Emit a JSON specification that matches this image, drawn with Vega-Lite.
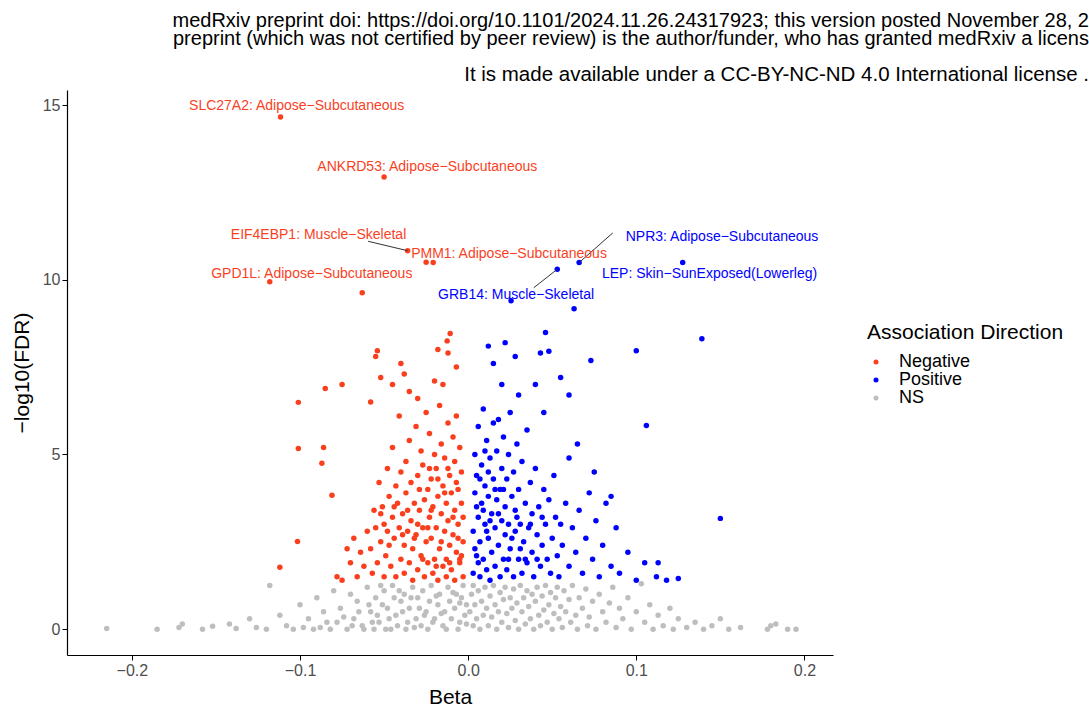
{
  "$schema": "https://vega.github.io/schema/vega-lite/v6.json",
  "width": 766,
  "height": 565,
  "autosize": "none",
  "padding": {"left": 67, "top": 90, "right": 256, "bottom": 63},
  "background": "white",
  "title": {
    "text": ["medRxiv preprint doi: https://doi.org/10.1101/2024.11.26.24317923; this version posted November 28, 2", "preprint  (which was not certified by peer review) is the author/funder, who has granted medRxiv a licens"],
    "subtitle": "It is made available under a CC-BY-NC-ND 4.0 International license .",
    "anchor": "end",
    "frame": "group",
    "dx": 256,
    "offset": 5,
    "font": "Liberation Sans",
    "fontSize": 20,
    "fontWeight": "normal",
    "lineHeight": 18,
    "color": "black",
    "subtitleFont": "Liberation Sans",
    "subtitleFontSize": 20.5,
    "subtitleColor": "black",
    "subtitlePadding": 16
  },
  "layer": [
    {
      "data": {
        "format": {"type": "csv"},
        "values": "b,f,d\n-0.215,0.02,NS\n-0.185,0.0,NS\n-0.172,0.05,NS\n-0.17,0.15,NS\n-0.158,0.0,NS\n-0.152,0.08,NS\n-0.142,0.15,NS\n-0.138,0.02,NS\n-0.13,0.3,NS\n-0.126,0.05,NS\n-0.12,0.0,NS\n-0.118,1.25,NS\n-0.112,0.4,NS\n-0.108,0.1,NS\n-0.104,0.0,NS\n-0.1,0.7,NS\n-0.098,0.05,NS\n-0.095,0.3,NS\n-0.092,0.0,NS\n-0.09,0.9,NS\n-0.088,0.05,NS\n-0.086,0.5,NS\n-0.084,0.2,NS\n-0.082,0.0,NS\n-0.08,1.1,NS\n-0.078,0.2,NS\n-0.076,0.6,NS\n-0.074,0.35,NS\n-0.072,0.0,NS\n-0.07,1.0,NS\n-0.069,0.1,NS\n-0.068,0.3,NS\n-0.066,0.8,NS\n-0.065,0.5,NS\n-0.063,0.1,NS\n-0.062,0.0,NS\n-0.06,1.2,NS\n-0.059,0.7,NS\n-0.058,0.5,NS\n-0.057,0.2,NS\n-0.056,0.0,NS\n-0.055,0.9,NS\n-0.054,0.4,NS\n-0.053,0.2,NS\n-0.052,1.25,NS\n-0.051,0.7,NS\n-0.05,1.1,NS\n-0.049,0.0,NS\n-0.048,0.6,NS\n-0.047,0.3,NS\n-0.046,0.0,NS\n-0.045,1.25,NS\n-0.044,0.9,NS\n-0.043,0.4,NS\n-0.042,0.1,NS\n-0.041,1.1,NS\n-0.04,0.8,NS\n-0.039,0.5,NS\n-0.038,1.0,NS\n-0.037,0.0,NS\n-0.036,0.2,NS\n-0.035,0.6,NS\n-0.034,0.9,NS\n-0.033,1.2,NS\n-0.032,0.05,NS\n-0.031,0.3,NS\n-0.03,0.9,NS\n-0.029,0.6,NS\n-0.028,0.1,NS\n-0.027,1.1,NS\n-0.026,0.4,NS\n-0.025,0.5,NS\n-0.024,0.0,NS\n-0.023,0.8,NS\n-0.022,1.25,NS\n-0.021,0.2,NS\n-0.02,0.3,NS\n-0.019,0.95,NS\n-0.018,0.7,NS\n-0.017,1.0,NS\n-0.016,0.45,NS\n-0.015,0.1,NS\n-0.014,0.5,NS\n-0.013,0.0,NS\n-0.012,1.2,NS\n-0.011,0.8,NS\n-0.01,0.3,NS\n-0.009,1.05,NS\n-0.008,0.6,NS\n-0.007,1.0,NS\n-0.006,0.0,NS\n-0.005,0.2,NS\n-0.005,0.75,NS\n-0.004,0.9,NS\n-0.003,1.25,NS\n-0.002,0.4,NS\n-0.001,0.7,NS\n-0.001,0.15,NS\n0.001,0.5,NS\n0.002,1.0,NS\n0.003,0.1,NS\n0.003,1.25,NS\n0.004,0.7,NS\n0.005,0.3,NS\n0.006,1.1,NS\n0.007,0.0,NS\n0.008,0.8,NS\n0.009,0.4,NS\n0.01,1.2,NS\n0.011,0.6,NS\n0.012,0.1,NS\n0.013,0.95,NS\n0.014,0.35,NS\n0.015,1.25,NS\n0.016,0.7,NS\n0.017,0.0,NS\n0.018,0.5,NS\n0.019,1.05,NS\n0.02,0.2,NS\n0.021,0.85,NS\n0.022,1.2,NS\n0.023,0.45,NS\n0.024,0.05,NS\n0.025,0.9,NS\n0.026,0.6,NS\n0.027,1.15,NS\n0.028,0.25,NS\n0.029,0.75,NS\n0.03,0.0,NS\n0.031,1.25,NS\n0.032,0.5,NS\n0.033,0.9,NS\n0.034,0.15,NS\n0.035,1.1,NS\n0.036,0.65,NS\n0.037,0.3,NS\n0.038,1.0,NS\n0.039,0.0,NS\n0.04,0.8,NS\n0.041,1.2,NS\n0.042,0.4,NS\n0.043,0.1,NS\n0.044,0.95,NS\n0.045,0.55,NS\n0.046,1.25,NS\n0.047,0.2,NS\n0.048,0.7,NS\n0.049,1.05,NS\n0.05,0.0,NS\n0.051,0.45,NS\n0.052,0.9,NS\n0.053,1.2,NS\n0.054,0.3,NS\n0.055,0.65,NS\n0.056,0.05,NS\n0.057,1.1,NS\n0.058,0.5,NS\n0.06,0.85,NS\n0.061,0.2,NS\n0.062,1.25,NS\n0.064,0.4,NS\n0.065,0.0,NS\n0.066,0.9,NS\n0.068,0.6,NS\n0.07,1.15,NS\n0.071,0.1,NS\n0.072,0.35,NS\n0.074,0.8,NS\n0.076,0.0,NS\n0.078,1.0,NS\n0.08,0.5,NS\n0.082,0.2,NS\n0.084,0.75,NS\n0.086,1.2,NS\n0.088,0.05,NS\n0.09,0.6,NS\n0.092,0.3,NS\n0.095,0.9,NS\n0.097,0.0,NS\n0.1,0.5,NS\n0.103,1.3,NS\n0.105,0.2,NS\n0.108,0.7,NS\n0.11,0.0,NS\n0.113,0.4,NS\n0.116,0.1,NS\n0.12,0.6,NS\n0.122,0.0,NS\n0.125,0.3,NS\n0.13,0.05,NS\n0.135,0.2,NS\n0.14,0.0,NS\n0.145,0.1,NS\n0.15,0.3,NS\n0.155,0.0,NS\n0.162,0.05,NS\n0.178,0.0,NS\n0.18,0.1,NS\n0.183,0.15,NS\n0.19,0.0,NS\n0.195,0.0,NS\n-0.003,1.5,Negative\n-0.003,2.5,Negative\n-0.004,3.6,Negative\n-0.004,4.5,Negative\n-0.005,1.9,Negative\n-0.005,5.2,Negative\n-0.006,3.0,Negative\n-0.006,4.0,Negative\n-0.007,2.2,Negative\n-0.007,6.1,Negative\n-0.008,1.4,Negative\n-0.008,3.4,Negative\n-0.008,4.8,Negative\n-0.009,2.7,Negative\n-0.009,5.5,Negative\n-0.01,1.7,Negative\n-0.01,3.9,Negative\n-0.011,2.4,Negative\n-0.011,4.4,Negative\n-0.012,3.1,Negative\n-0.012,5.9,Negative\n-0.013,1.5,Negative\n-0.013,2.0,Negative\n-0.013,3.6,Negative\n-0.014,4.9,Negative\n-0.014,2.8,Negative\n-0.015,1.8,Negative\n-0.015,4.1,Negative\n-0.016,3.3,Negative\n-0.016,5.3,Negative\n-0.017,2.3,Negative\n-0.017,6.4,Negative\n-0.018,1.4,Negative\n-0.018,3.8,Negative\n-0.019,2.9,Negative\n-0.019,4.6,Negative\n-0.02,2.0,Negative\n-0.02,5.0,Negative\n-0.021,3.5,Negative\n-0.021,1.6,Negative\n-0.022,4.3,Negative\n-0.022,2.6,Negative\n-0.023,5.6,Negative\n-0.023,3.2,Negative\n-0.024,1.9,Negative\n-0.024,4.0,Negative\n-0.025,2.5,Negative\n-0.025,6.2,Negative\n-0.026,3.7,Negative\n-0.026,1.5,Negative\n-0.027,4.7,Negative\n-0.027,2.9,Negative\n-0.028,2.1,Negative\n-0.028,5.1,Negative\n-0.029,3.4,Negative\n-0.03,1.7,Negative\n-0.03,4.4,Negative\n-0.031,2.7,Negative\n-0.031,5.8,Negative\n-0.032,3.6,Negative\n-0.033,1.4,Negative\n-0.033,2.3,Negative\n-0.034,4.2,Negative\n-0.034,3.1,Negative\n-0.035,5.4,Negative\n-0.035,1.9,Negative\n-0.036,2.8,Negative\n-0.037,3.9,Negative\n-0.037,4.8,Negative\n-0.038,1.6,Negative\n-0.038,2.4,Negative\n-0.039,3.3,Negative\n-0.04,4.5,Negative\n-0.04,2.0,Negative\n-0.041,6.1,Negative\n-0.041,2.9,Negative\n-0.042,3.6,Negative\n-0.043,1.5,Negative\n-0.043,4.1,Negative\n-0.044,2.6,Negative\n-0.045,3.2,Negative\n-0.045,5.2,Negative\n-0.046,1.8,Negative\n-0.047,2.4,Negative\n-0.047,3.8,Negative\n-0.048,4.6,Negative\n-0.049,2.1,Negative\n-0.05,3.0,Negative\n-0.05,1.5,Negative\n-0.051,3.5,Negative\n-0.052,2.5,Negative\n-0.053,4.2,Negative\n-0.054,1.9,Negative\n-0.055,2.9,Negative\n-0.056,3.4,Negative\n-0.057,1.6,Negative\n-0.058,2.3,Negative\n-0.06,2.8,Negative\n-0.062,1.8,Negative\n-0.064,2.2,Negative\n-0.066,1.5,Negative\n-0.07,1.9,Negative\n-0.075,1.4,Negative\n-0.068,2.6,Negative\n-0.072,2.3,Negative\n-0.078,1.5,Negative\n-0.058,6.5,Negative\n-0.055,7.8,Negative\n-0.054,7.97,Negative\n-0.052,7.2,Negative\n-0.045,7.0,Negative\n-0.04,7.6,Negative\n-0.038,7.3,Negative\n-0.035,6.8,Negative\n-0.03,6.6,Negative\n-0.02,7.1,Negative\n-0.015,7.0,Negative\n-0.012,7.9,Negative\n-0.0107,8.46,Negative\n-0.0125,8.25,Negative\n-0.018,8.0,Negative\n-0.007,7.5,Negative\n-0.101,6.49,Negative\n-0.085,6.89,Negative\n-0.075,7.0,Negative\n-0.101,5.17,Negative\n-0.086,5.2,Negative\n-0.087,4.75,Negative\n-0.081,3.83,Negative\n-0.1015,2.51,Negative\n-0.112,1.77,Negative\n-0.063,9.63,Negative\n-0.025,10.5,Negative\n-0.005,2.0,Negative\n-0.006,2.6,Negative\n-0.009,3.2,Negative\n-0.011,1.9,Negative\n-0.014,3.9,Negative\n-0.016,2.5,Negative\n-0.019,1.8,Negative\n-0.022,3.4,Negative\n-0.024,2.9,Negative\n-0.027,2.0,Negative\n-0.029,4.0,Negative\n-0.032,2.6,Negative\n-0.036,3.4,Negative\n-0.039,2.7,Negative\n-0.044,3.5,Negative\n-0.048,2.8,Negative\n-0.052,3.3,Negative\n-0.003,3.2,Negative\n-0.004,2.1,Negative\n-0.007,4.2,Negative\n-0.012,4.6,Negative\n-0.018,4.3,Negative\n-0.023,4.6,Negative\n-0.03,3.0,Negative\n0.003,1.6,Positive\n0.003,2.8,Positive\n0.004,3.9,Positive\n0.004,5.0,Positive\n0.005,2.1,Positive\n0.005,4.4,Positive\n0.006,3.2,Positive\n0.006,5.8,Positive\n0.007,1.5,Positive\n0.007,2.5,Positive\n0.008,3.6,Positive\n0.008,4.7,Positive\n0.009,2.0,Positive\n0.009,6.3,Positive\n0.01,3.0,Positive\n0.01,4.1,Positive\n0.011,1.7,Positive\n0.011,5.4,Positive\n0.012,2.6,Positive\n0.012,3.8,Positive\n0.013,4.9,Positive\n0.013,1.4,Positive\n0.014,3.3,Positive\n0.014,2.2,Positive\n0.015,5.9,Positive\n0.015,4.3,Positive\n0.016,2.9,Positive\n0.016,1.8,Positive\n0.017,3.7,Positive\n0.017,5.1,Positive\n0.018,2.4,Positive\n0.018,6.0,Positive\n0.019,4.0,Positive\n0.019,1.5,Positive\n0.02,3.1,Positive\n0.02,4.6,Positive\n0.021,2.0,Positive\n0.021,5.5,Positive\n0.022,3.5,Positive\n0.022,2.7,Positive\n0.023,4.3,Positive\n0.023,1.7,Positive\n0.024,3.0,Positive\n0.024,5.0,Positive\n0.025,2.3,Positive\n0.025,6.2,Positive\n0.026,3.8,Positive\n0.027,1.5,Positive\n0.027,4.5,Positive\n0.028,2.8,Positive\n0.028,3.4,Positive\n0.029,5.3,Positive\n0.03,2.0,Positive\n0.03,4.0,Positive\n0.031,3.0,Positive\n0.032,1.6,Positive\n0.032,4.8,Positive\n0.033,2.5,Positive\n0.034,3.6,Positive\n0.035,1.9,Positive\n0.035,5.7,Positive\n0.036,2.9,Positive\n0.037,4.2,Positive\n0.038,2.2,Positive\n0.038,3.3,Positive\n0.039,1.5,Positive\n0.04,4.6,Positive\n0.041,2.7,Positive\n0.042,3.5,Positive\n0.043,1.8,Positive\n0.044,2.4,Positive\n0.045,4.0,Positive\n0.046,3.0,Positive\n0.047,2.0,Positive\n0.048,3.7,Positive\n0.049,1.6,Positive\n0.05,2.6,Positive\n0.051,4.4,Positive\n0.052,3.2,Positive\n0.053,2.1,Positive\n0.054,1.5,Positive\n0.055,3.0,Positive\n0.056,2.4,Positive\n0.058,3.6,Positive\n0.06,1.8,Positive\n0.062,2.9,Positive\n0.064,2.2,Positive\n0.066,3.4,Positive\n0.068,1.6,Positive\n0.07,2.6,Positive\n0.072,3.9,Positive\n0.074,2.0,Positive\n0.076,3.1,Positive\n0.078,1.5,Positive\n0.08,2.4,Positive\n0.082,3.6,Positive\n0.085,1.8,Positive\n0.088,2.9,Positive\n0.09,1.6,Positive\n0.095,2.2,Positive\n0.1,1.4,Positive\n0.105,1.9,Positive\n0.112,1.5,Positive\n0.118,1.4,Positive\n0.125,1.45,Positive\n0.113,1.9,Positive\n0.06,6.7,Positive\n0.045,6.2,Positive\n0.03,6.7,Positive\n0.02,7.0,Positive\n0.015,7.6,Positive\n0.012,8.1,Positive\n0.022,8.2,Positive\n0.028,7.8,Positive\n0.04,7.0,Positive\n0.048,7.95,Positive\n0.043,7.9,Positive\n0.055,7.2,Positive\n0.06,4.9,Positive\n0.075,4.5,Positive\n0.085,3.8,Positive\n0.065,5.3,Positive\n0.053,10.3,Positive\n0.0255,9.4,Positive\n0.063,9.17,Positive\n0.046,8.49,Positive\n0.139,8.31,Positive\n0.1,7.97,Positive\n0.073,7.69,Positive\n0.106,5.83,Positive\n0.15,3.17,Positive\n0.004,2.3,Positive\n0.006,1.9,Positive\n0.009,3.4,Positive\n0.011,2.8,Positive\n0.013,3.1,Positive\n0.016,4.0,Positive\n0.018,3.3,Positive\n0.021,4.0,Positive\n0.024,2.0,Positive\n0.026,2.6,Positive\n0.029,3.2,Positive\n0.031,2.3,Positive\n0.034,2.0,Positive\n0.037,3.0,Positive\n0.041,2.0,Positive\n0.044,3.2,Positive\n0.007,4.3,Positive\n0.01,5.1,Positive\n0.005,3.5,Positive\n0.012,4.5,Positive\n0.066,10.49,Positive\n0.1276,10.49,Positive\n-0.1116,14.66,Negative\n-0.05,12.94,Negative\n-0.036,10.83,Negative\n-0.0208,10.49,Negative\n-0.118,9.94,Negative"
      },
      "mark": {"type": "circle", "size": 30, "opacity": 1},
      "encoding": {
        "x": {
          "field": "b", "type": "quantitative", "title": "Beta",
          "scale": {"domain": [-0.2386, 0.217], "nice": false, "zero": false},
          "axis": {"values": [-0.2, -0.1, 0, 0.1, 0.2], "labelExpr": "replace(format(datum.value, '.1f'), '-', '\u2212')"}
        },
        "y": {
          "field": "f", "type": "quantitative", "title": "\u2212log10(FDR)",
          "scale": {"domain": [-0.74, 15.43], "nice": false, "zero": false},
          "axis": {"values": [0, 5, 10, 15]}
        },
        "color": {
          "field": "d", "type": "nominal", "title": "Association Direction",
          "scale": {"domain": ["Negative", "Positive", "NS"], "range": ["#FA3F1F", "#0000FF", "#BEBEBE"]},
          "legend": {
            "orient": "none", "legendX": 800, "legendY": 232,
            "titleFontSize": 21, "titleFontWeight": "normal", "titleFont": "Liberation Sans", "titleColor": "black", "titleLimit": 400,
            "labelFontSize": 18, "labelFont": "Liberation Sans", "labelColor": "black",
            "symbolType": "circle", "symbolSize": 25, "rowPadding": 0, "titlePadding": 10, "labelOffset": 14
          }
        }
      }
    },
    {
      "data": {"values": [
        {"x1": -0.0595, "y1": 11.1, "x2": -0.036, "y2": 10.83},
        {"x1": 0.086, "y1": 11.34, "x2": 0.066, "y2": 10.49},
        {"x1": 0.039, "y1": 9.77, "x2": 0.053, "y2": 10.3}
      ]},
      "mark": {"type": "rule", "strokeWidth": 1},
      "encoding": {
        "x": {"field": "x1", "type": "quantitative"},
        "x2": {"field": "x2"},
        "y": {"field": "y1", "type": "quantitative"},
        "y2": {"field": "y2"},
        "color": {"value": "#333333"}
      }
    },
    {
      "data": {"values": [
        {"lx": -0.102, "ly": 14.97, "t": "SLC27A2: Adipose\u2212Subcutaneous", "d": "Negative"},
        {"lx": -0.0243, "ly": 13.23, "t": "ANKRD53: Adipose\u2212Subcutaneous", "d": "Negative"},
        {"lx": -0.089, "ly": 11.29, "t": "EIF4EBP1: Muscle\u2212Skeletal", "d": "Negative"},
        {"lx": 0.0243, "ly": 10.74, "t": "PMM1: Adipose\u2212Subcutaneous", "d": "Negative"},
        {"lx": -0.093, "ly": 10.17, "t": "GPD1L: Adipose\u2212Subcutaneous", "d": "Negative"},
        {"lx": 0.151, "ly": 11.23, "t": "NPR3: Adipose\u2212Subcutaneous", "d": "Positive"},
        {"lx": 0.1436, "ly": 10.17, "t": "LEP: Skin\u2212SunExposed(Lowerleg)", "d": "Positive"},
        {"lx": 0.0285, "ly": 9.57, "t": "GRB14: Muscle\u2212Skeletal", "d": "Positive"}
      ]},
      "mark": {"type": "text", "fontSize": 14, "font": "Liberation Sans"},
      "encoding": {
        "x": {"field": "lx", "type": "quantitative"},
        "y": {"field": "ly", "type": "quantitative"},
        "text": {"field": "t"},
        "color": {"field": "d", "type": "nominal", "legend": null}
      }
    }
  ],
  "config": {
    "view": {"stroke": null},
    "axis": {
      "grid": false, "domainColor": "black", "domainWidth": 1.2, "tickColor": "black", "tickSize": 5,
      "labelFont": "Liberation Sans", "labelFontSize": 16, "labelColor": "#4D4D4D",
      "titleFont": "Liberation Sans", "titleFontSize": 21, "titleFontWeight": "normal", "titleColor": "black"
    },
    "axisX": {"titlePadding": 8},
    "axisY": {"titlePadding": 10}
  }
}
